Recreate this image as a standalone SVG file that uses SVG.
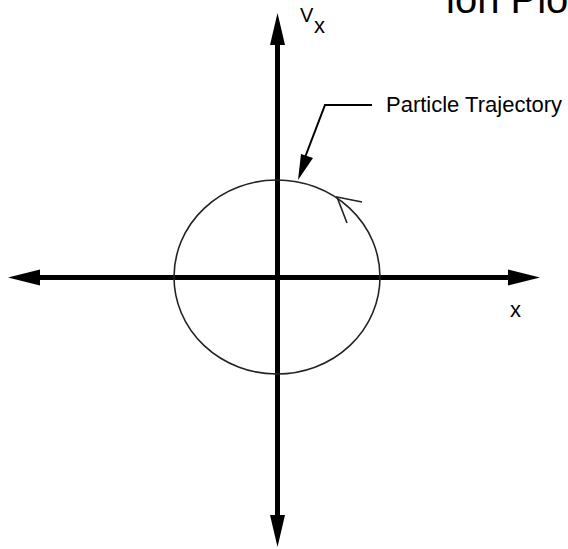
<svg xmlns="http://www.w3.org/2000/svg" width="568" height="549" viewBox="0 0 568 549">
<style>
.axis{stroke:#000;stroke-width:5;fill:none}
.head{fill:#000}
.lbl{font-family:"Liberation Sans",Arial,sans-serif;fill:#000}
</style>
<rect width="568" height="549" fill="#fff"/>
<g id="title">
<text class="lbl" x="446" y="13" font-size="40">ion Plot</text>
</g>
<g id="connectors">
<line class="axis" x1="36" y1="277.5" x2="512" y2="277.5"/>
<line class="axis" x1="277.5" y1="42" x2="277.5" y2="518"/>
<polygon class="head" points="8,277.5 40,269.5 40,285.5"/>
<polygon class="head" points="540,277.5 508,269.5 508,285.5"/>
<polygon class="head" points="277.5,13 270,45 285,45"/>
<polygon class="head" points="277.5,547 270,515 285,515"/>
<polyline points="372,105 325,105 304,160" fill="none" stroke="#000" stroke-width="2"/>
<polygon class="head" points="298,180 301,154 313,158"/>
</g>
<g id="trajectory">
<ellipse cx="277" cy="277" rx="103" ry="97" fill="none" stroke="#222" stroke-width="1.6"/>
<polyline points="362,202 337,197 347,223" fill="none" stroke="#222" stroke-width="1.6"/>
</g>
<g id="labels">
<text class="lbl" x="300" y="22" font-size="20">V</text>
<text class="lbl" x="314" y="33" font-size="22">x</text>
<text class="lbl" x="510" y="317" font-size="22">x</text>
<text class="lbl" x="386" y="112" font-size="22">Particle Trajectory</text>
</g>
</svg>
